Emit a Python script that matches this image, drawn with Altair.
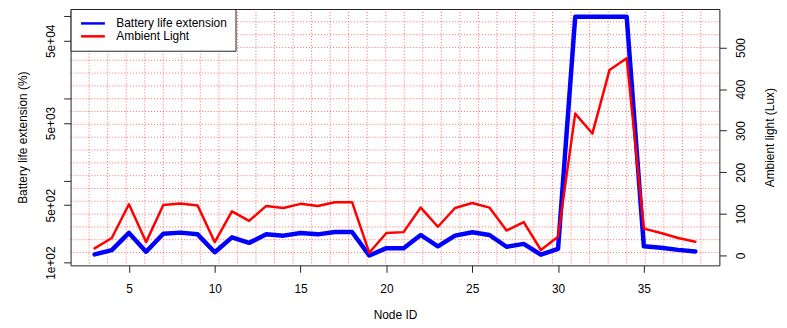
import altair as alt
import pandas as pd

# ---- data ----
nodes = [3, 4, 5, 6, 7, 8, 9, 10, 11, 12, 13, 14, 15, 16, 17, 18, 19, 20,
         21, 22, 23, 24, 25, 26, 27, 28, 29, 30, 31, 32, 33, 34, 35, 36, 37, 38]
battery = [126, 142, 230, 136, 225, 232, 221, 134, 203, 174, 221, 213, 230, 221,
           236, 236, 122, 150, 150, 217, 158, 213, 234, 217, 156, 169, 125, 147,
           98000, 98000, 98000, 98000, 158, 152, 143, 137]
light = [17, 42, 123, 32, 121, 125, 120, 32, 106, 83, 119, 114, 124, 119, 128, 128,
         6.5, 54, 56, 115, 69, 114, 126, 115, 60, 80, 13, 45, 341, 293, 446, 474,
         64.5, 54, 42, 33]
series = ["Battery life extension", "Ambient Light"]
colors = ["#0000ff", "#ff0000"]
x_ticks = [5, 10, 15, 20, 25, 30, 35]
left_ticks = [100, 500, 1000, 5000, 10000, 50000, 100000]
left_labels = ["1e+02", "5e+02", "", "5e+03", "", "5e+04", ""]
right_ticks = [0, 100, 200, 300, 400, 500]

x_domain = [1.6, 39.4]
left_domain = [92.7, 122000]
right_domain = [-23.9, 592.5]
grid_nx, grid_ny = 35, 20

W, H = 653, 258
FONT = "Liberation Sans"

df = pd.DataFrame({"node": nodes, "battery": battery, "light": light})
gx = [x_domain[0] + k * (x_domain[1] - x_domain[0]) / grid_nx for k in range(1, grid_nx)]
gy = list(range(1, grid_ny))

label_expr = ""
for v, l in zip(left_ticks, left_labels):
    label_expr += f"datum.value == {v} ? '{l}' : "
label_expr += "''"


def xenc(field):
    return alt.X(
        f"{field}:Q",
        scale=alt.Scale(domain=x_domain, nice=False, zero=False),
        axis=alt.Axis(values=x_ticks, title="Node ID", tickSize=7, labelPadding=16,
                      labelBaseline="middle", domain=False, grid=False,
                      titleX=W / 2, titleY=50, titleBaseline="middle", titleAlign="center"),
    )


grid_style = dict(color="#ff0000", opacity=0.6, strokeDash=[1, 2], strokeWidth=1)

vgrid = alt.Chart(pd.DataFrame({"gx": gx})).mark_rule(**grid_style).encode(x=xenc("gx"))
hgrid = alt.Chart(pd.DataFrame({"gy": gy})).mark_rule(**grid_style).encode(
    x=alt.value(0),
    x2=alt.value(W),
    y=alt.Y("gy:Q", scale=alt.Scale(domain=[0, grid_ny], nice=False, zero=False), axis=None),
)

color_enc = alt.Color(
    "series:N",
    scale=alt.Scale(domain=series, range=colors),
    legend=alt.Legend(
        title=None, orient="none", legendX=0, legendY=0,
        symbolType="M-0.8,0H4", symbolSize=100, symbolStrokeWidth=2.5,
        labelOffset=25, padding=8, rowPadding=0,
        fillColor="white", strokeColor="#222",
        labelFont=FONT, labelFontSize=12, labelColor="black",
    ),
)

blue = alt.Chart(df).transform_calculate(series=f"'{series[0]}'").mark_line(
    strokeWidth=4.5, strokeJoin="round", strokeCap="round"
).encode(
    x=xenc("node"),
    y=alt.Y(
        "battery:Q",
        scale=alt.Scale(type="log", domain=left_domain, nice=False),
        axis=alt.Axis(values=left_ticks, labelExpr=label_expr, labelAngle=270,
                      labelAlign="center", labelBaseline="middle", labelPadding=13,
                      tickSize=7, domain=False, grid=False,
                      title="Battery life extension (%)", titleAngle=270,
                      titleX=-48, titleY=H / 2, titleAlign="center", titleBaseline="middle"),
    ),
    color=color_enc,
)

red = alt.Chart(df).transform_calculate(series=f"'{series[1]}'").mark_line(
    strokeWidth=2.5, strokeJoin="round", strokeCap="round"
).encode(
    x=xenc("node"),
    y=alt.Y(
        "light:Q",
        scale=alt.Scale(domain=right_domain, nice=False, zero=False),
        axis=alt.Axis(orient="right", values=right_ticks, labelAngle=270,
                      labelAlign="center", labelBaseline="middle", labelPadding=14,
                      tickSize=7, domain=False, grid=False,
                      title="Ambient light (Lux)", titleAngle=270,
                      titleX=50, titleY=H / 2, titleAlign="center", titleBaseline="middle"),
    ),
    color=color_enc,
)

chart = (
    alt.layer(vgrid, hgrid, blue, red)
    .resolve_scale(y="independent")
    .properties(
        width=W, height=H,
        autosize=alt.AutoSizeParams(type="none"),
        padding={"left": 63, "top": 0, "right": 60, "bottom": 56},
        background="white",
    )
    .configure_view(stroke="#222", strokeWidth=1)
    .configure_axis(
        labelFont=FONT, labelFontSize=12, labelColor="black",
        titleFont=FONT, titleFontSize=12, titleColor="black", titleFontWeight="normal",
        tickColor="#222", tickWidth=1,
    )
)

chart.save("out.html", embed_options={"renderer": "svg", "actions": False})
